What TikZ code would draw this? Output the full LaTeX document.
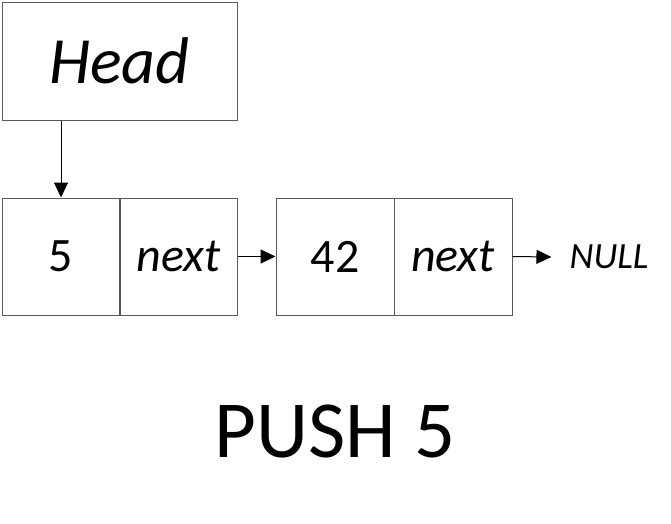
\documentclass[tikz,border=0pt]{standalone}
\usepackage{fontspec}
\setmainfont{Carlito}
\usetikzlibrary{arrows.meta}

\tikzset{
  cell/.style={draw=black!65, line width=1pt, minimum width=118pt, minimum height=117pt, inner sep=0pt, font=\fontsize{48}{56}\selectfont},
  headbox/.style={cell, minimum width=235pt, minimum height=118pt, font=\fontsize{66}{76}\selectfont\itshape},
  ptr/.style={line width=1pt, -{Triangle[length=15pt, width=14pt]}},
}

\begin{document}
\begin{tikzpicture}[x=1pt, y=-1pt]
  \useasboundingbox (0,0) rectangle (671,523);
  \node[headbox] (head) at (119.5,61) {Head};
  \node[cell] (v1) at (61,256.5) {5};
  \node[cell] (n1) at (178.5,256.5) {\itshape next};
  \node[cell] (v2) at (335,256.5) {42};
  \node[cell] (n2) at (453,256.5) {\itshape next};
  \node[font=\fontsize{37}{44}\selectfont\itshape, inner sep=0pt] (null) at (609,257) {NULL};
  \node[font=\fontsize{81}{92}\selectfont] (push) at (335,432) {PUSH 5};
  \draw[ptr] (head.south -| v1) -- (v1.north);
  \draw[ptr] (n1.east) -- (v2.west);
  \draw[ptr] (n2.east) -- ([xshift=-18pt]null.west);
\end{tikzpicture}
\end{document}
